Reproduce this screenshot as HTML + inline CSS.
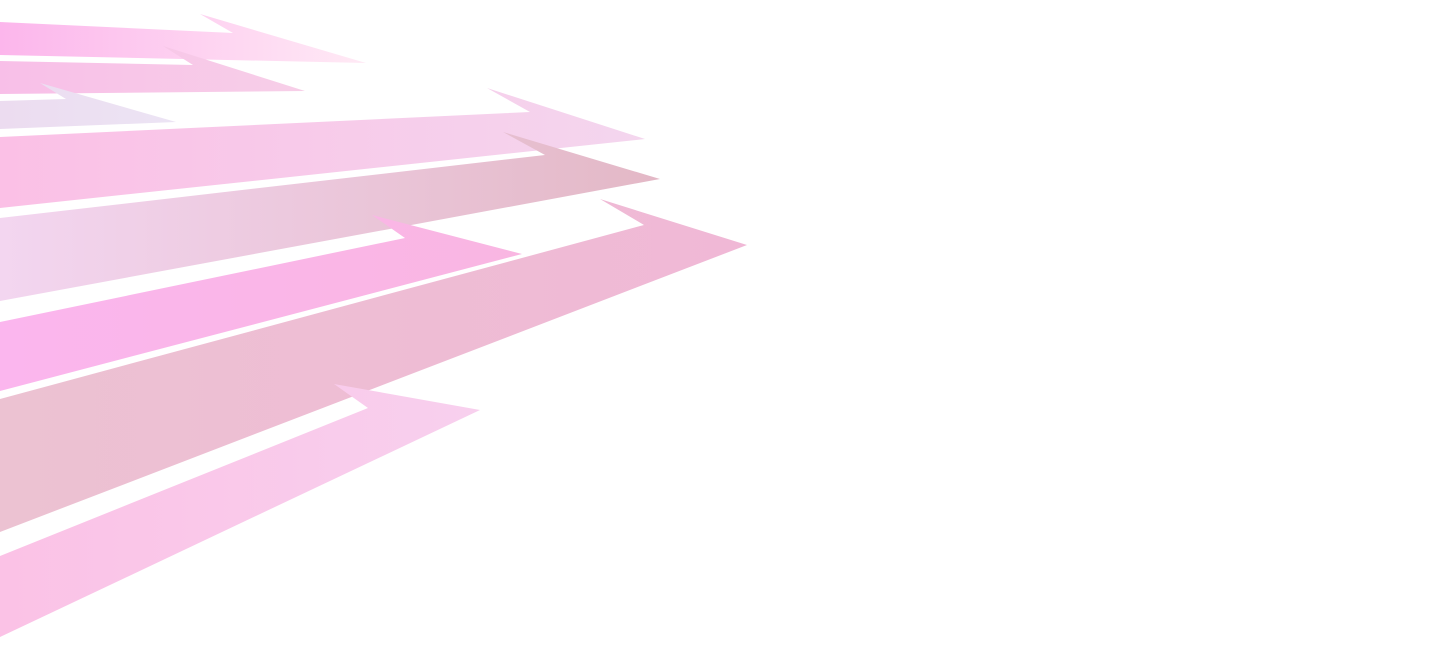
<!DOCTYPE html>
<html><head><meta charset="utf-8"><style>
html,body{margin:0;padding:0;background:#fff;width:1453px;height:668px;overflow:hidden}
svg{display:block}
</style></head><body>
<svg width="1453" height="668" viewBox="0 0 1453 668" xmlns="http://www.w3.org/2000/svg">
<defs>
<linearGradient id="g1" x1="0" x2="1"><stop offset="0" stop-color="#fcb6ec"/><stop offset="1" stop-color="#ffeaf5"/></linearGradient>
<linearGradient id="g2" x1="0" x2="1"><stop offset="0" stop-color="#f8bfe8"/><stop offset="1" stop-color="#f7cfe8"/></linearGradient>
<linearGradient id="g3" x1="0" x2="1"><stop offset="0" stop-color="#ecdcf0"/><stop offset="1" stop-color="#ece4f4"/></linearGradient>
<linearGradient id="g4" x1="0" x2="1"><stop offset="0" stop-color="#fbc0e6"/><stop offset="1" stop-color="#f4d6ee"/></linearGradient>
<linearGradient id="g5" x1="0" x2="1"><stop offset="0" stop-color="#f3d6f0"/><stop offset="1" stop-color="#e3b8c6"/></linearGradient>
<linearGradient id="g6" x1="0" x2="1"><stop offset="0" stop-color="#fbb6ee"/><stop offset="1" stop-color="#f9b6e2"/></linearGradient>
<linearGradient id="g7" x1="0" x2="1"><stop offset="0" stop-color="#ecc2d2"/><stop offset="1" stop-color="#f0b8d6"/></linearGradient>
<linearGradient id="g8" x1="0" x2="1"><stop offset="0" stop-color="#fbc2e6"/><stop offset="1" stop-color="#f8d0ee"/></linearGradient>
</defs>
<polygon fill="url(#g1)" points="0,22 233,33 200,14 366,63 0,55"/>
<polygon fill="url(#g2)" points="0,61 193,65 163,46 305,91 0,94"/>
<polygon fill="url(#g3)" points="0,101 66,99 40,83 176,122 0,129"/>
<polygon fill="url(#g4)" points="0,137 530,112 487,88 645,139 0,208"/>
<polygon fill="url(#g5)" points="0,218 545,155 503,132 660,179 0,301"/>
<polygon fill="url(#g6)" points="0,322 405,238 372,215 522,254 0,391"/>
<polygon fill="url(#g7)" points="0,399 644,225 600,199 747,245 0,532"/>
<polygon fill="url(#g8)" points="0,556 368,408 334,384 480,410 0,637"/>
</svg>
</body></html>
